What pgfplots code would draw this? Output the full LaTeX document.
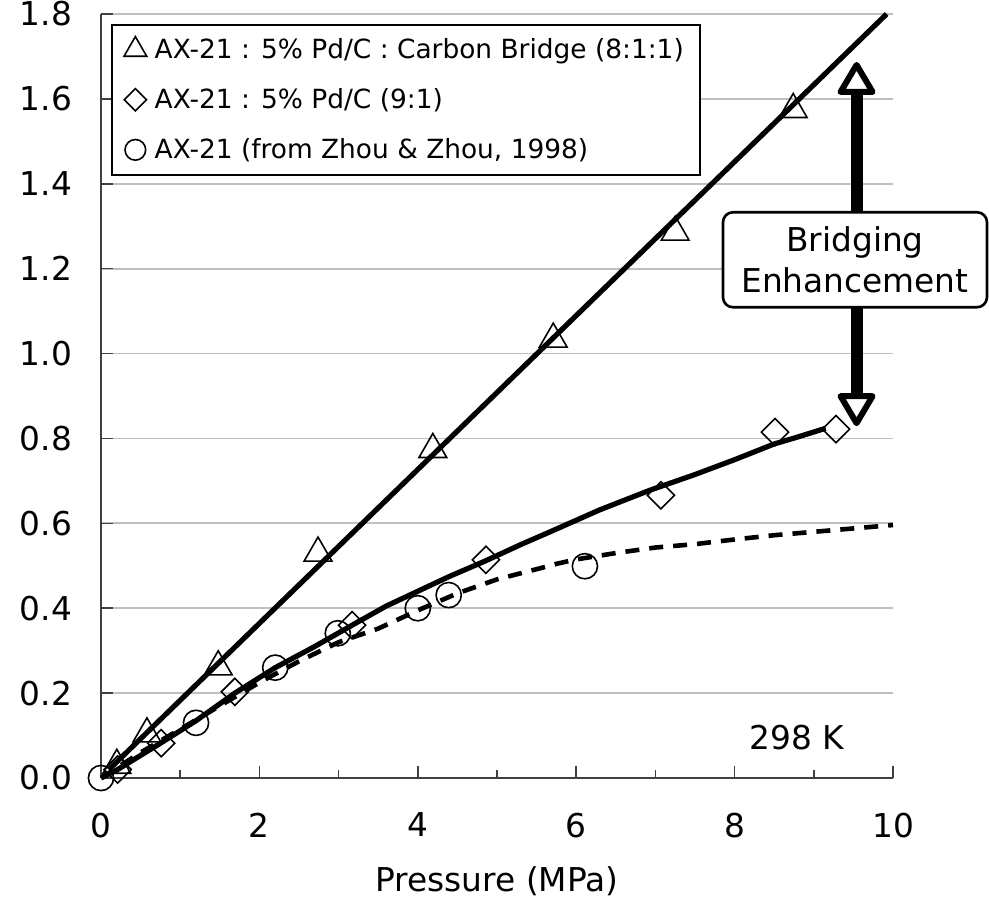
\documentclass[border=0pt]{standalone}
\usepackage{fontspec}
\setmainfont{DejaVu Sans}
\usepackage{pgfplots}
\pgfplotsset{compat=1.18}
\usetikzlibrary{calc}
\begin{document}
\begin{tikzpicture}
\begin{axis}[
  scale only axis, width=396pt, height=382pt,
  xmin=0, xmax=10, ymin=0, ymax=1.8,
  axis x line*=bottom, axis y line*=left,
  axis line style={draw=black!75, line width=0.8pt},
  tick align=inside,
  xtick={0,2,4,6,8,10}, minor xtick={1,3,5,7,9},
  xticklabels={0,2,4,6,8,10},
  ytick={0,0.2,0.4,0.6,0.8,1.0,1.2,1.4,1.6,1.8},
  yticklabels={0.0,0.2,0.4,0.6,0.8,1.0,1.2,1.4,1.6,1.8},
  major tick length=6pt, minor tick length=4pt,
  every tick/.style={draw=black!75, line width=0.8pt},
  ymajorgrids, grid style={draw=black!25, line width=0.9pt},
  y tick label style={xshift=-11pt},
  x tick label style={yshift=-14pt},
  tick label style={font=\fontsize{16.4}{19}\selectfont},
  xlabel={Pressure (MPa)},
  xlabel style={font=\fontsize{16.4}{19}\selectfont, at={(rel axis cs:0.5,0)}, anchor=north, yshift=-44pt, inner sep=0pt},
  clip=false,
  legend cell align=left,
  legend image code/.code={\draw[mark repeat=2,mark phase=2,#1,/tikz/every mark/.append style={scale=0.82}] plot coordinates {(0pt,0pt)(6pt,0pt)(12pt,0pt)};},
  legend style={at={(rel axis cs:0,1)}, anchor=north west, xshift=5pt, yshift=-5pt,
    draw=black, line width=1pt, font=\fontsize{13.2}{15}\selectfont,
    row sep=9.5pt, column sep=2pt, inner xsep=6pt, inner ysep=4.6pt},
]
% fitted lines
\addplot[black, line width=2.6pt, forget plot] coordinates {(0.1,0.02) (9.92,1.8)};
\addplot[black, line width=2.6pt, forget plot] coordinates {
(0,0) (0.21,0.02) (0.76,0.083) (1.2,0.135) (1.69,0.2) (2.2,0.26) (2.7,0.31) (3.17,0.36) (3.6,0.405) (4.0,0.44) (4.4,0.475) (4.86,0.512) (5.3,0.55) (5.67,0.58) (6.3,0.632) (6.93,0.678) (7.5,0.715) (8.0,0.75) (8.5,0.787) (8.79,0.803) (9.15,0.824)};
\addplot[black, line width=2.3pt, dash pattern=on 7pt off 5pt, forget plot] coordinates {
(0,0) (0.5,0.06) (1,0.115) (1.5,0.17) (2,0.225) (2.5,0.275) (3,0.32) (3.5,0.352) (4,0.395) (4.5,0.435) (5,0.468) (5.5,0.492) (5.76,0.505) (6,0.515) (6.5,0.53) (7,0.543) (7.5,0.551) (8,0.562) (8.5,0.572) (9,0.58) (9.5,0.588) (10,0.596)};
% markers
\addplot[only marks, mark=triangle, mark size=8pt, mark options={fill=white, draw=black, line width=0.8pt}] coordinates {
(0.2,0.03) (0.58,0.104) (1.48,0.262) (2.74,0.53) (4.19,0.774) (5.71,1.034) (7.25,1.286) (8.74,1.575)};
\addlegendentry{AX-21 : 5\% Pd/C : Carbon Bridge (8:1:1)\hspace{3pt}}
\addplot[only marks, mark=square, mark size=4.8pt, mark options={rotate=45, fill=white, draw=black, line width=0.8pt}] coordinates {
(0.21,0.02) (0.76,0.082) (1.69,0.203) (3.17,0.36) (4.86,0.514) (7.07,0.666) (8.51,0.815) (9.28,0.822)};
\addlegendentry{AX-21 : 5\% Pd/C (9:1)}
\addplot[only marks, mark=o, mark size=6.3pt, mark options={fill=white, draw=black, line width=0.8pt}] coordinates {
(0,0) (1.2,0.13) (2.2,0.26) (2.99,0.341) (4.0,0.40) (4.39,0.431) (6.11,0.499)};
\addlegendentry{AX-21 (from Zhou \& Zhou, 1998)}
% annotation arrow
\draw[black, line width=6pt] (axis cs:9.54,0.905) -- (axis cs:9.54,1.611);
\draw[black, line width=3pt, fill=white, line join=round] (axis cs:9.54,1.68) -- ++(-8pt,-13.5pt) -- ++(16pt,0pt) -- cycle;
\draw[black, line width=3pt, fill=white, line join=round] (axis cs:9.54,0.836) -- ++(-8pt,13.5pt) -- ++(16pt,0pt) -- cycle;
\node[draw=black, line width=1.3pt, rounded corners=5pt, fill=white, minimum width=132pt, minimum height=47.5pt, align=center, inner sep=0pt, font=\fontsize{16.4}{20.5}\selectfont] at (axis cs:9.52,1.221) {Bridging\\Enhancement};
\node[anchor=base, font=\fontsize{16.4}{19}\selectfont, inner sep=0pt] at (axis cs:8.79,0.068) {298 K};
\coordinate (O) at (rel axis cs:0,0);
\end{axis}
\pgfresetboundingbox
\path ($(O)+(-50.5pt,-61.5pt)$) rectangle ($(O)+(444pt,389pt)$);
\end{tikzpicture}
\end{document}
